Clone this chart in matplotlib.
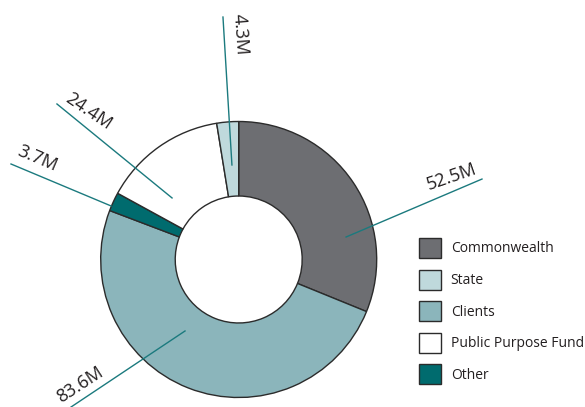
import matplotlib.pyplot as plt

plt.rcParams['font.family'] = ['Open Sans', 'DejaVu Sans']

# clockwise from 12 o'clock
sources = ["Commonwealth", "Clients", "Other", "Public Purpose Fund", "State"]
amounts = [52.5, 83.6, 3.7, 24.4, 4.3]
amount_labels = ["52.5M", "83.6M", "3.7M", "24.4M", "4.3M"]
colours = ["#6d6e72", "#8bb5bb", "#006b6e", "#ffffff", "#bfd9dc"]
legend_order = ["Commonwealth", "State", "Clients", "Public Purpose Fund", "Other"]

# leader line start (inside ring), line end, text centre, text angle
callouts = [
    ((0.778, 0.163), (1.763, 0.583), (1.546, 0.600), 19),
    ((-0.389, -0.518), (-1.215, -1.069), (-1.150, -0.905), 33),
    ((-0.925, 0.388), (-1.650, 0.692), (-1.462, 0.730), -23),
    ((-0.483, 0.446), (-1.317, 1.127), (-1.092, 1.072), -34),
    ((-0.049, 0.685), (-0.114, 1.757), (0.012, 1.634), -86),
]

W, H = 585, 407
cx, cy, R = 238.7, 259.5, 138.0
ink = "#231f20"
lead = "#1b7a7e"

fig = plt.figure(figsize=(W / 100, H / 100), dpi=100)
ax = fig.add_axes([0, 0, 1, 1])

wedges, _ = ax.pie(amounts, colors=colours, startangle=90, counterclock=False,
                   radius=1.0,
                   wedgeprops=dict(width=0.54, edgecolor="#2b2b2b", linewidth=1.0))
ax.set_aspect('equal', adjustable='datalim')
ax.set_xlim(-cx / R, (W - cx) / R)
ax.set_ylim(-(H - cy) / R, cy / R)
ax.axis('off')

for lab, (start, end, tpos, rot) in zip(amount_labels, callouts):
    ax.plot([start[0], end[0]], [start[1], end[1]], color=lead, lw=1.0, zorder=5)
    ax.text(tpos[0], tpos[1], lab, rotation=rot, rotation_mode='anchor',
            ha='center', va='center', fontsize=13, color=ink)

by_name = dict(zip(sources, wedges))
fig.legend([by_name[s] for s in legend_order], legend_order, loc='upper left',
           bbox_to_anchor=(419 / W, 1 - 238 / H), frameon=False,
           fontsize=10, labelcolor=ink, handlelength=1.58, handleheight=1.84,
           handletextpad=0.7, labelspacing=0.83, borderpad=0, borderaxespad=0)

fig.savefig("out.png", dpi=100)
